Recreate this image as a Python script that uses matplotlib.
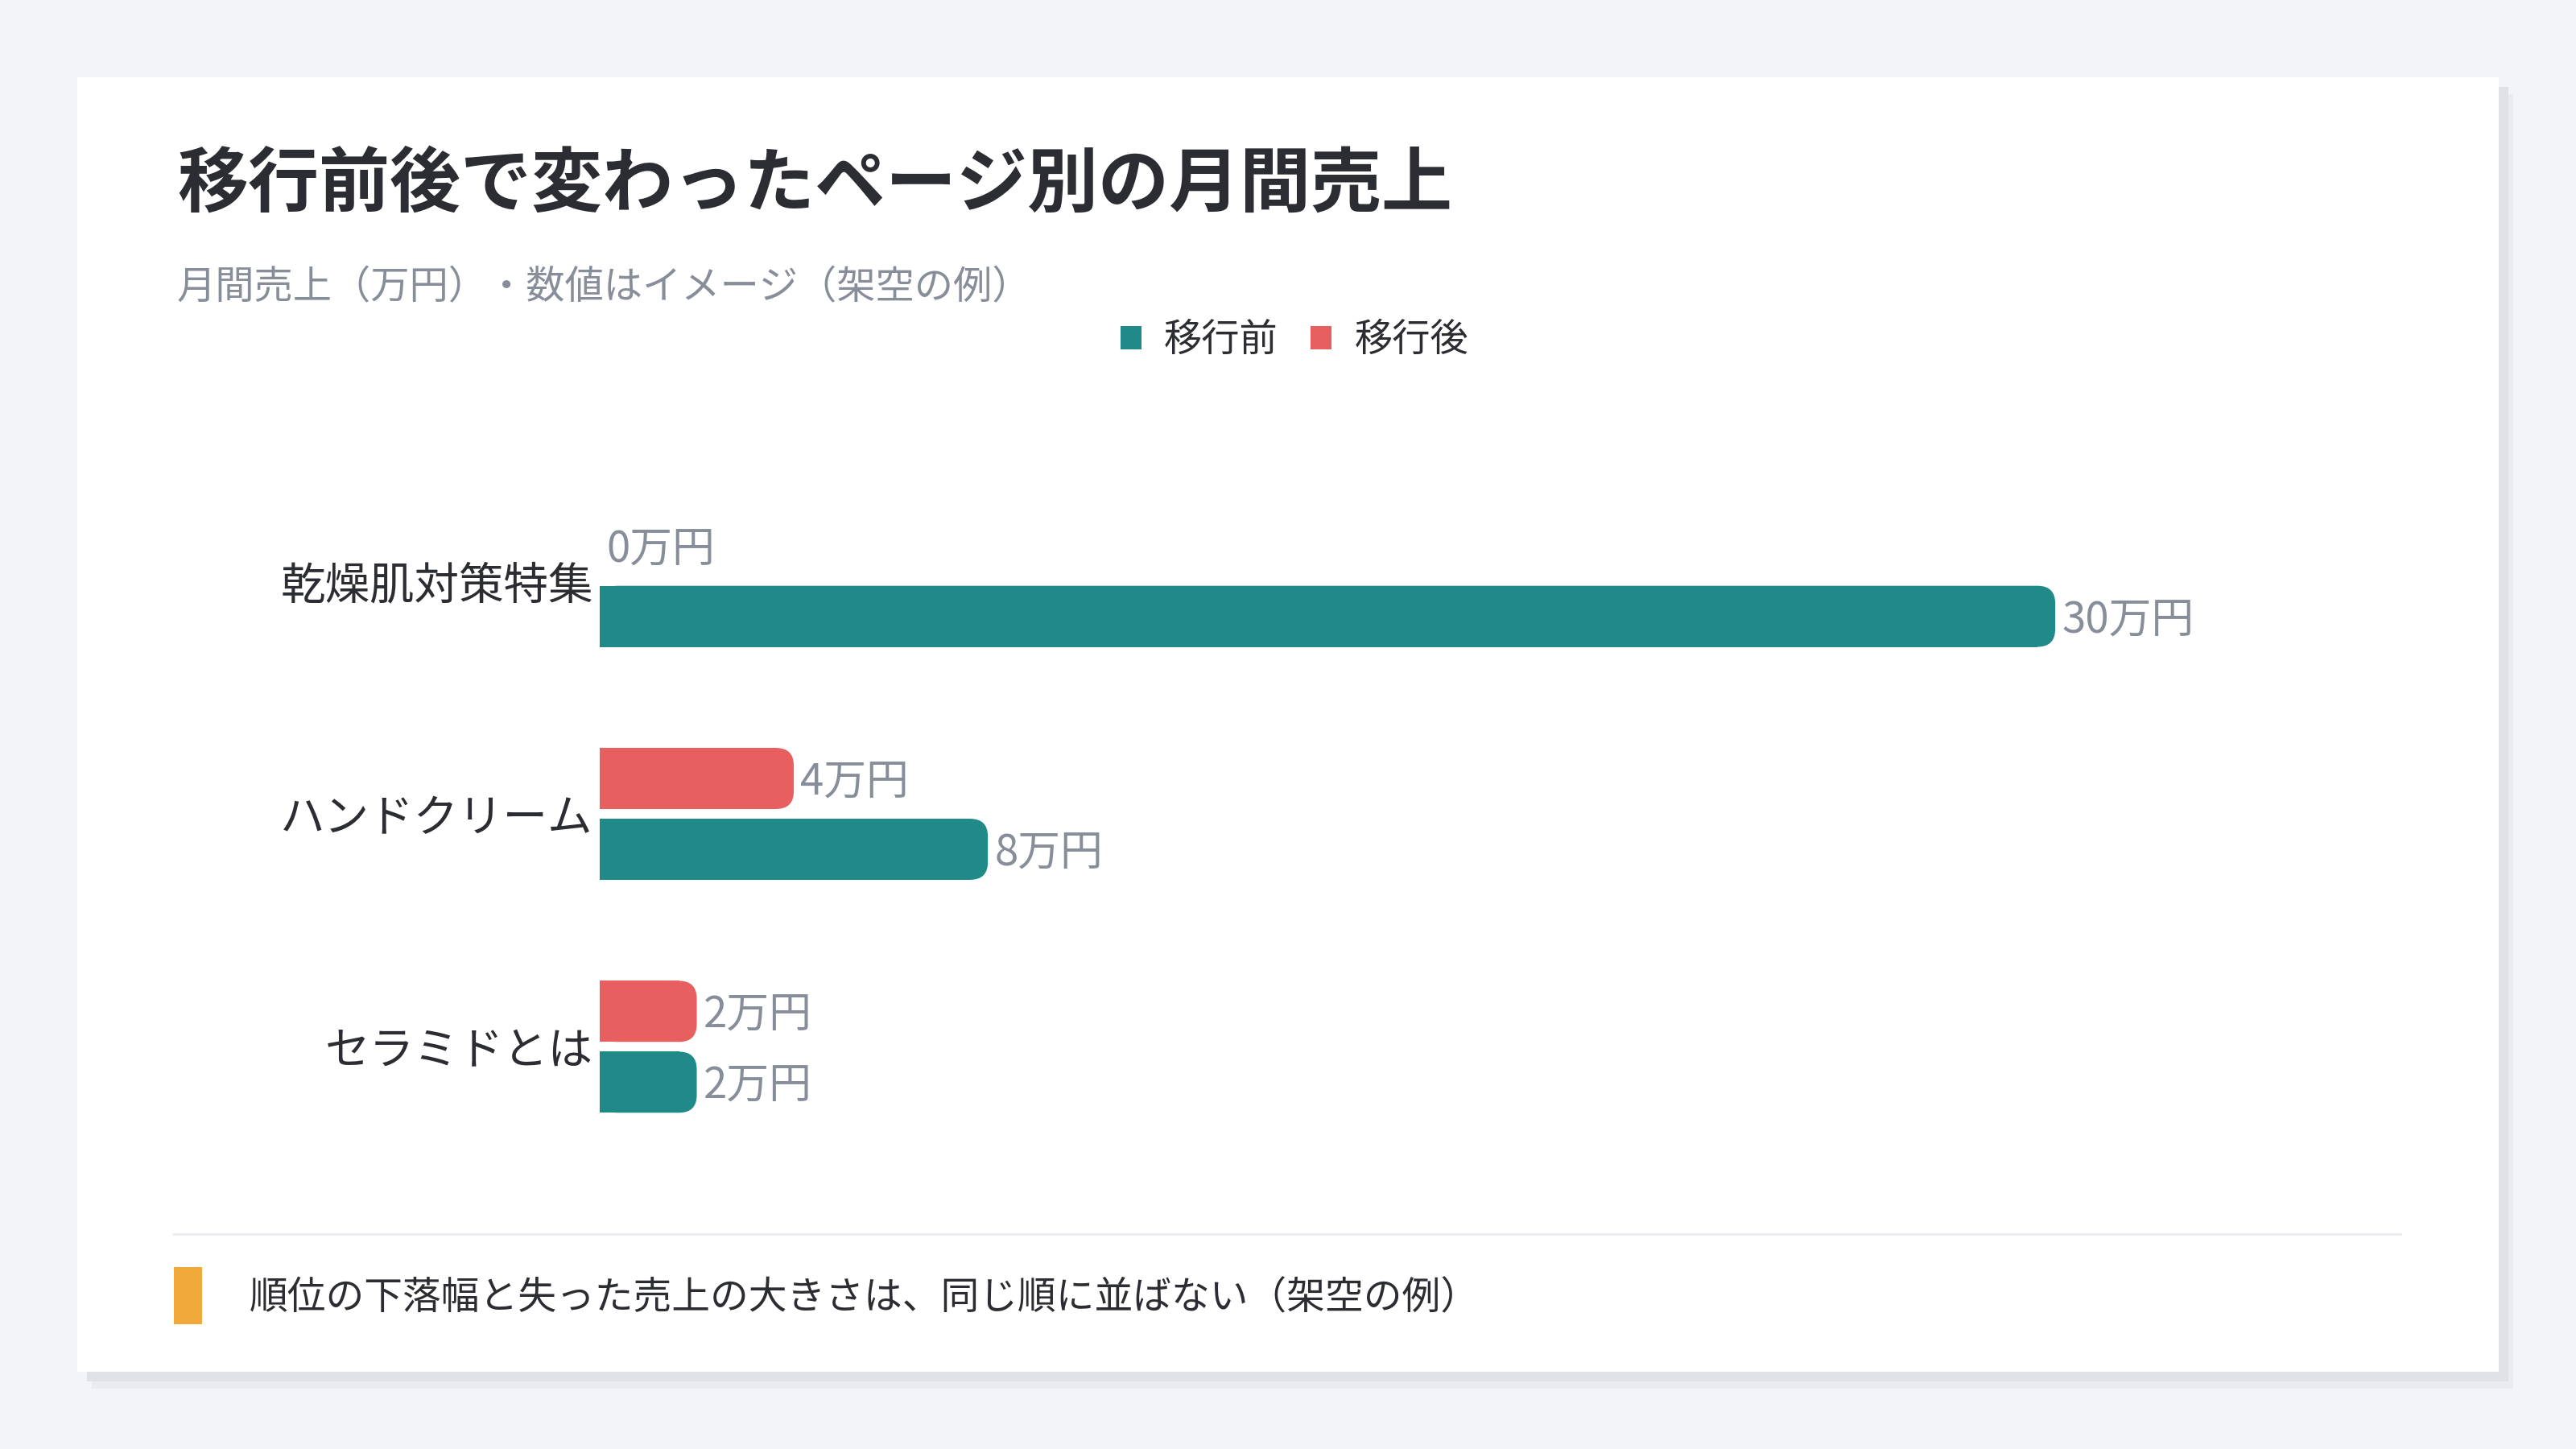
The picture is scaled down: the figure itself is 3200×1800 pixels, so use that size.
import matplotlib
matplotlib.use('Agg')
import matplotlib.pyplot as plt
from matplotlib.patches import Rectangle, FancyBboxPatch, Patch
from matplotlib.lines import Line2D

plt.rcParams['font.family'] = ['Noto Sans CJK JP', 'DejaVu Sans']

# data
pages = ['乾燥肌対策特集', 'ハンドクリーム', 'セラミドとは']
before = [30, 8, 2]
after = [0, 4, 2]
series_names = ['移行前', '移行後']
unit = '万円'

title = '移行前後で変わったページ別の月間売上'
subtitle = '月間売上（万円）・数値はイメージ（架空の例）'
note = '順位の下落幅と失った売上の大きさは、同じ順に並ばない（架空の例）'

TEAL = '#1f8a87'
RED = '#e85f5f'
ORANGE = '#f2a93b'
DARK = '#2b2d33'
GRAY = '#878d99'
BG = '#f3f4f8'

W, H = 3200, 1800
fig = plt.figure(figsize=(16, 9), dpi=200)
fig.patch.set_facecolor(BG)


def px_rect(x0, y0, x1, y1, color, z):
    # pixel box measured from the top-left corner
    r = Rectangle((x0 / W, 1 - y1 / H), (x1 - x0) / W, (y1 - y0) / H,
                  transform=fig.transFigure, facecolor=color,
                  edgecolor='none', zorder=z)
    fig.add_artist(r)


# card + shadow
px_rect(114, 117, 3122, 1725, '#eaebf0', -12)
px_rect(108, 108, 3116, 1716, '#dfe1e7', -11)
px_rect(96, 96, 3104, 1704, 'white', -10)

fig.text(220 / W, 1 - 230 / H, title, fontsize=31.7, fontweight='bold',
         color=DARK, va='center', ha='left')
fig.text(220 / W, 1 - 358 / H, subtitle, fontsize=17.4, color=GRAY,
         va='center', ha='left')

# axes placement (pixels)
ax_left, ax_top, ax_bottom = 745, 548, 1474
xmax = 36
px_per_x = 60.27
ax_w = xmax * px_per_x
ax = fig.add_axes([ax_left / W, 1 - ax_bottom / H, ax_w / W,
                   (ax_bottom - ax_top) / H])
ax.set_facecolor('none')
ax.set_xlim(0, xmax)
ax.set_ylim(len(pages) - 0.4, -0.6)
px_per_y = (ax_bottom - ax_top) / 3.2

off = 0.152
bh = 0.262
ys = list(range(len(pages)))
b_after = ax.barh([y - off for y in ys], after, height=bh, color=RED)
b_before = ax.barh([y + off for y in ys], before, height=bh, color=TEAL)

rad = 22
rx = rad / px_per_x
asp = (rad / px_per_y) / rx


def round_bar(p):
    x, y, w, h = p.get_x(), p.get_y(), p.get_width(), p.get_height()
    c = p.get_facecolor()
    p.set_visible(False)
    if w <= 0:
        return
    ax.add_patch(FancyBboxPatch((x, y), w, h,
                                boxstyle=f'round,pad=0,rounding_size={rx}',
                                mutation_aspect=asp, facecolor=c,
                                edgecolor='none'))
    ax.add_patch(Rectangle((x, y), max(w - rx, 0), h, facecolor=c,
                           edgecolor='none'))


for cont, vals in ((b_after, after), (b_before, before)):
    for p, v in zip(cont.patches, vals):
        round_bar(p)
        ax.annotate(f'{v}{unit}', xy=(v, p.get_y() + p.get_height() / 2),
                    xytext=(3, -1.8), textcoords='offset points',
                    va='center', ha='left', fontsize=19, color=GRAY)

ax.set_yticks(ys)
ax.set_yticklabels(pages, fontsize=20, color=DARK)
ax.tick_params(axis='y', length=0, pad=3)
ax.set_xticks([])
for s in ax.spines.values():
    s.set_visible(False)

handles = [Patch(facecolor=TEAL, edgecolor='none'),
           Patch(facecolor=RED, edgecolor='none')]
leg = fig.legend(handles, series_names, loc='center',
                 bbox_to_anchor=(1608 / W, 1 - 423 / H), ncol=2,
                 frameon=False, fontsize=17, handlelength=0.55,
                 handleheight=0.55, handletextpad=0.6, columnspacing=0.85)
for t in leg.get_texts():
    t.set_color(DARK)

# footer
fig.add_artist(Line2D([216 / W, 2982 / W], [1 - 1533 / H] * 2,
                      transform=fig.transFigure, color='#ebedf1', lw=1.1))
px_rect(216, 1574, 251, 1645, ORANGE, 2)
fig.text(310 / W, 1 - 1613 / H, note, fontsize=17.2, color=DARK,
         va='center', ha='left')

fig.savefig('out.png', dpi=200)
